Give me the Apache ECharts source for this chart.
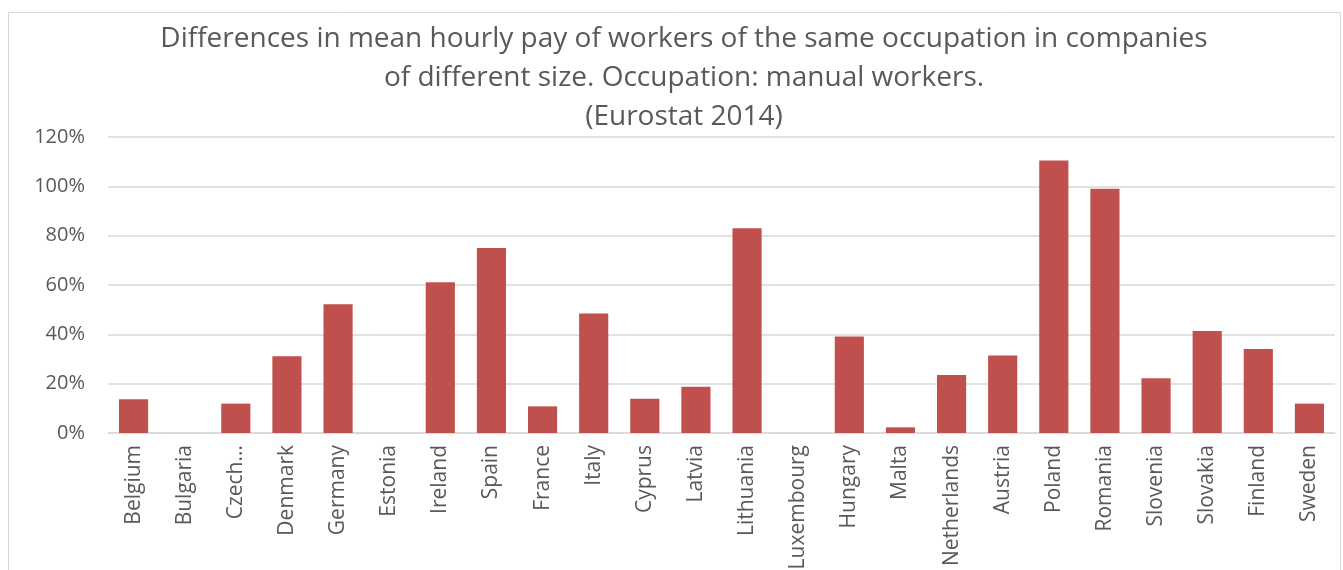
<!DOCTYPE html>
<html>
<head>
<meta charset="utf-8">
<script src="https://cdn.jsdelivr.net/npm/echarts@6/dist/echarts.min.js"></script>
<style>
  html, body { margin: 0; padding: 0; background: #fff; }
  #contain { width: 1343px; height: 570px; }
</style>
</head>
<body>
<div id="contain"></div>
<script>
// data
const countries = ['Belgium', 'Bulgaria', 'Czech Republic', 'Denmark', 'Germany', 'Estonia', 'Ireland',
  'Spain', 'France', 'Italy', 'Cyprus', 'Latvia', 'Lithuania', 'Luxembourg', 'Hungary', 'Malta',
  'Netherlands', 'Austria', 'Poland', 'Romania', 'Slovenia', 'Slovakia', 'Finland', 'Sweden']
const payGap = [13.7, 0, 11.9, 31.1, 52.2, 0, 61.1, 75.0, 10.8, 48.4, 13.9, 18.8, 83.0, 0,
  39.1, 2.3, 23.5, 31.4, 110.5, 99.0, 22.2, 41.4, 34.1, 11.9]
const yTicks = [0, 20, 40, 60, 80, 100, 120]

const font = '"Open Sans", sans-serif'
const chart = echarts.init(document.getElementById('contain'))

const option = {
  animation: false,
  title: {
    text: 'Differences in mean hourly pay of workers of the same occupation in companies\nof different size. Occupation: manual workers.\n(Eurostat 2014)',
    left: 679,
    top: 15,
    textAlign: 'center',
    textStyle: {
      fontFamily: font,
      fontSize: 28,
      fontWeight: 'normal',
      color: '#595959',
      lineHeight: 39
    }
  },
  graphic: [{
    type: 'rect',
    shape: { x: 8.5, y: 12.5, width: 1332, height: 570 },
    style: { fill: 'none', stroke: '#D9D9D9', lineWidth: 1 },
    silent: true
  }],
  grid: { left: 108, right: 8, top: 137, bottom: 137, outerBoundsMode: 'none' },
  xAxis: {
    type: 'category',
    data: countries,
    axisLine: { lineStyle: { color: '#D9D9D9', width: 1.5 } },
    axisTick: { show: false },
    axisLabel: {
      rotate: 90,
      interval: 0,
      margin: 12,
      fontFamily: font,
      fontSize: 21,
      color: '#595959',
      formatter: v => v.length > 12 ? v.slice(0, 5) + '...' : v
    }
  },
  yAxis: {
    type: 'value',
    min: yTicks[0],
    max: yTicks[yTicks.length - 1],
    interval: 20,
    axisLine: { show: false },
    axisTick: { show: false },
    splitLine: { lineStyle: { color: '#D9D9D9', width: 1.5 } },
    axisLabel: {
      margin: 23,
      fontFamily: font,
      fontSize: 20,
      color: '#595959',
      formatter: '{value}%'
    }
  },
  series: [{
    type: 'bar',
    data: payGap,
    barCategoryGap: '43%',
    itemStyle: { color: '#C0504D' }
  }]
}

chart.setOption(option)
</script>
</body>
</html>
